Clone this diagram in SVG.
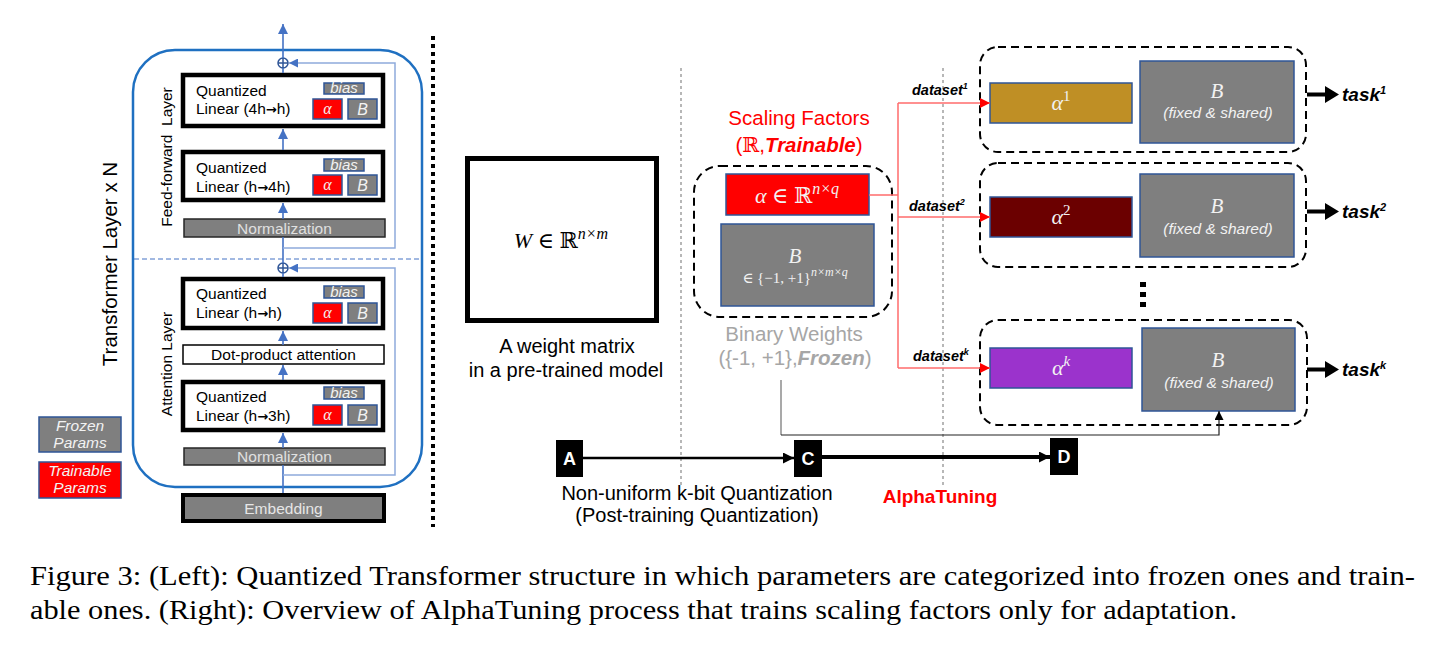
<svg xmlns="http://www.w3.org/2000/svg" width="1443" height="652" viewBox="0 0 1443 652">
<style>
text{font-family:"Liberation Sans",Arial,sans-serif;}
.serif{font-family:"Liberation Serif","DejaVu Serif",serif;}
.cap{font-family:"Liberation Serif","Times New Roman",serif;font-size:28px;fill:#000;}
.ar{font-family:"DejaVu Sans",sans-serif;font-weight:bold;font-size:13px;}
.q{fill:#fff;stroke:#000;stroke-width:4.5;}
.norm{fill:#7f7f7f;stroke:#262626;stroke-width:1.5;}
.gray{fill:#7f7f7f;stroke:#2f5597;stroke-width:1.5;}
.red{fill:#ff0000;stroke:#2f5597;stroke-width:1.5;}
.flow{stroke:#4472c4;stroke-width:1.6;fill:none;}
.res{stroke:#8eaadb;stroke-width:1.5;fill:none;}
.dash{fill:none;stroke:#000;stroke-width:2;stroke-dasharray:8 5;}
.gdot{stroke:#a0a0a0;stroke-width:1.5;stroke-dasharray:3 3;}
.rl{stroke:#ff6b6b;stroke-width:1.5;fill:none;}
.t15{font-size:15.5px;}
.wt{fill:#f2f2f2;}
.lbl{fill:#fff;font-weight:bold;font-size:18px;}
.ds{font-weight:bold;font-style:italic;font-size:14.5px;}
.task{font-weight:bold;font-style:italic;font-size:19px;}
</style>
<defs>
<marker id="ab" viewBox="0 0 10 10" refX="10" refY="5" markerWidth="10" markerHeight="10" markerUnits="userSpaceOnUse" orient="auto"><path d="M0,0L10,5L0,10z" fill="#4472c4"/></marker>
<marker id="ar" viewBox="0 0 10 10" refX="10" refY="5" markerWidth="9" markerHeight="9" markerUnits="userSpaceOnUse" orient="auto"><path d="M0,0L10,5L0,10z" fill="#4472c4"/></marker>
<marker id="ared" viewBox="0 0 10 10" refX="10" refY="5" markerWidth="10" markerHeight="11" markerUnits="userSpaceOnUse" orient="auto"><path d="M0,0L10,5L0,10z" fill="#ff0000"/></marker>
<marker id="ak" viewBox="0 0 10 10" refX="10" refY="5" markerWidth="11" markerHeight="11" markerUnits="userSpaceOnUse" orient="auto"><path d="M0,0L10,5L0,10z" fill="#000"/></marker>
<marker id="aks" viewBox="0 0 10 10" refX="10" refY="5" markerWidth="9" markerHeight="9" markerUnits="userSpaceOnUse" orient="auto"><path d="M0,0L10,5L0,10z" fill="#000"/></marker>
</defs>

<!-- Transformer container -->
<g id="transformer">
<rect x="133" y="50" width="289" height="437" rx="42" fill="none" stroke="#1f70c1" stroke-width="2.5"/>
<line x1="134" y1="259" x2="421" y2="259" stroke="#4472c4" stroke-width="1" stroke-dasharray="5 3"/>
<text transform="rotate(-90 117 264)" x="117" y="264" text-anchor="middle" font-size="20.5">Transformer Layer x N</text>
<text transform="rotate(-90 172 157)" x="172" y="157" text-anchor="middle" class="t15" xml:space="preserve">Feed-forward  Layer</text>
<text transform="rotate(-90 172 364)" x="172" y="364" text-anchor="middle" class="t15">Attention Layer</text>
</g>

<g id="plus1"><circle cx="283" cy="63" r="5" fill="#fff" stroke="#2f5597" stroke-width="1.5"/><path d="M278,63h10M283,58v10" stroke="#2f5597" stroke-width="1.5"/></g>
<g id="plus2"><circle cx="283" cy="268" r="5" fill="#fff" stroke="#2f5597" stroke-width="1.5"/><path d="M278,268h10M283,263v10" stroke="#2f5597" stroke-width="1.5"/></g>

<g id="ql1">
<rect class="q" x="183" y="75" width="200" height="51"/>
<text class="t15" x="196" y="96">Quantized</text>
<text class="t15" x="196" y="114">Linear (4h<tspan class="ar">→</tspan>h)</text>
<rect class="gray" x="324" y="83" width="40" height="11"/>
<text class="wt" x="344" y="93" text-anchor="middle" font-size="15" font-style="italic">bias</text>
<rect class="red" x="313" y="99" width="29" height="20"/>
<text class="serif wt" x="327.5" y="114" text-anchor="middle" font-size="16" font-style="italic">α</text>
<rect class="gray" x="348" y="99" width="29" height="20"/>
<text class="wt" x="362.5" y="115" text-anchor="middle" font-size="16" font-style="italic">B</text>
</g>
<g id="ql2">
<rect class="q" x="183" y="152" width="200" height="48"/>
<text class="t15" x="196" y="173">Quantized</text>
<text class="t15" x="196" y="192">Linear (h<tspan class="ar">→</tspan>4h)</text>
<rect class="gray" x="324" y="159" width="40" height="12"/>
<text class="wt" x="344" y="170" text-anchor="middle" font-size="15" font-style="italic">bias</text>
<rect class="red" x="313" y="175" width="29" height="20"/>
<text class="serif wt" x="327.5" y="190" text-anchor="middle" font-size="16" font-style="italic">α</text>
<rect class="gray" x="348" y="175" width="29" height="20"/>
<text class="wt" x="362.5" y="191" text-anchor="middle" font-size="16" font-style="italic">B</text>
</g>
<g id="norm1">
<rect class="norm" x="184" y="219" width="201" height="18"/>
<text class="t15" x="284.5" y="233.5" text-anchor="middle" fill="#e0e0e0">Normalization</text>
</g>
<g id="ql3">
<rect class="q" x="183" y="279" width="200" height="49"/>
<text class="t15" x="196" y="299">Quantized</text>
<text class="t15" x="196" y="318">Linear (h<tspan class="ar">→</tspan>h)</text>
<rect class="gray" x="324" y="286" width="40" height="12"/>
<text class="wt" x="344" y="297" text-anchor="middle" font-size="15" font-style="italic">bias</text>
<rect class="red" x="313" y="303" width="29" height="20"/>
<text class="serif wt" x="327.5" y="318" text-anchor="middle" font-size="16" font-style="italic">α</text>
<rect class="gray" x="348" y="303" width="29" height="20"/>
<text class="wt" x="362.5" y="319" text-anchor="middle" font-size="16" font-style="italic">B</text>
</g>
<g id="dotprod">
<rect x="183" y="345" width="201" height="19" fill="#fff" stroke="#000" stroke-width="1.5"/>
<text class="t15" x="283.5" y="359.5" text-anchor="middle">Dot-product attention</text>
</g>
<g id="ql4">
<rect class="q" x="183" y="382" width="200" height="48"/>
<text class="t15" x="196" y="402">Quantized</text>
<text class="t15" x="196" y="421">Linear (h<tspan class="ar">→</tspan>3h)</text>
<rect class="gray" x="324" y="387" width="40" height="12"/>
<text class="wt" x="344" y="398" text-anchor="middle" font-size="15" font-style="italic">bias</text>
<rect class="red" x="313" y="405" width="29" height="20"/>
<text class="serif wt" x="327.5" y="420" text-anchor="middle" font-size="16" font-style="italic">α</text>
<rect class="gray" x="348" y="405" width="29" height="20"/>
<text class="wt" x="362.5" y="421" text-anchor="middle" font-size="16" font-style="italic">B</text>
</g>
<g id="norm2">
<rect class="norm" x="184" y="448" width="201" height="17"/>
<text class="t15" x="284.5" y="462" text-anchor="middle" fill="#e0e0e0">Normalization</text>
</g>
<g id="embedding">
<rect x="183" y="495" width="201" height="26" fill="#7f7f7f" stroke="#000" stroke-width="4"/>
<text class="t15" x="283.5" y="513.5" text-anchor="middle" fill="#e6e6e6">Embedding</text>
</g>

<g id="legend-frozen">
<rect class="gray" x="39" y="417" width="82" height="35"/>
<text class="t15 wt" x="80" y="430.5" text-anchor="middle" font-style="italic">Frozen</text>
<text class="t15 wt" x="80" y="448" text-anchor="middle" font-style="italic">Params</text>
</g>
<g id="legend-trainable">
<rect class="red" x="39" y="462" width="82" height="36"/>
<text class="t15 wt" x="80" y="475.5" text-anchor="middle" font-style="italic">Trainable</text>
<text class="t15 wt" x="80" y="493" text-anchor="middle" font-style="italic">Params</text>
</g>

<!-- separators -->
<g id="separators">
<line x1="433" y1="36" x2="433" y2="527" stroke="#000" stroke-width="4" stroke-dasharray="4 4"/>
<line class="gdot" x1="681" y1="68" x2="681" y2="488"/>
<line class="gdot" x1="943" y1="68" x2="943" y2="488"/>
</g>

<g id="weight-matrix">
<rect x="467.5" y="158.5" width="189" height="162" fill="#fff" stroke="#000" stroke-width="5"/>
<text class="serif" x="561" y="248" text-anchor="middle" font-size="22"><tspan font-style="italic">W</tspan> ∈ ℝ<tspan font-style="italic" font-size="16" dy="-9">n×m</tspan></text>
<text x="567" y="353" text-anchor="middle" font-size="20">A weight matrix</text>
<text x="566" y="377" text-anchor="middle" font-size="20">in a pre-trained model</text>
</g>

<g id="quantized-weights">
<text x="799" y="125" text-anchor="middle" font-size="20.5" fill="#ff0000">Scaling Factors</text>
<text x="799" y="152" text-anchor="middle" font-size="20.5" fill="#ff0000">(<tspan class="serif">ℝ</tspan>,<tspan font-weight="bold" font-style="italic">Trainable</tspan>)</text>
<rect class="dash" x="694" y="166" width="198" height="151" rx="26"/>
<rect class="red" x="726" y="174" width="143" height="41"/>
<text class="serif wt" x="797" y="203" text-anchor="middle" font-size="22"><tspan font-style="italic">α</tspan> ∈ ℝ<tspan font-style="italic" font-size="16" dy="-9">n×q</tspan></text>
<rect class="gray" x="721" y="224" width="153" height="82"/>
<text class="serif wt" x="795" y="263" text-anchor="middle" font-size="21" font-style="italic">B</text>
<text class="serif wt" x="795" y="283" text-anchor="middle" font-size="15">∈ {−1, +1}<tspan font-style="italic" font-size="12" dy="-7">n×m×q</tspan></text>
<text x="794" y="341" text-anchor="middle" font-size="20.5" fill="#a6a6a6">Binary Weights</text>
<text x="795" y="365" text-anchor="middle" font-size="20.5" fill="#a6a6a6">({-1, +1},<tspan font-weight="bold" font-style="italic">Frozen</tspan>)</text>
</g>

<g id="task1">
<rect class="dash" x="980" y="47" width="326" height="105" rx="18"/>
<rect x="990" y="83" width="142" height="40" fill="#bf8f25" stroke="#2f5597" stroke-width="1.5"/>
<text class="serif wt" x="1061" y="110" text-anchor="middle" font-size="22"><tspan font-style="italic">α</tspan><tspan font-size="15" dy="-9">1</tspan></text>
<rect class="gray" x="1140" y="61" width="154" height="82"/>
<text class="serif wt" x="1217" y="98" text-anchor="middle" font-size="21" font-style="italic">B</text>
<text class="wt" x="1218" y="118" text-anchor="middle" font-size="15.5" font-style="italic">(fixed &amp; shared)</text>
</g>
<g id="task2">
<rect class="dash" x="980" y="163" width="326" height="104" rx="18"/>
<rect x="990" y="197" width="142" height="40" fill="#6b0000" stroke="#2f5597" stroke-width="1.5"/>
<text class="serif wt" x="1061" y="224" text-anchor="middle" font-size="22"><tspan font-style="italic">α</tspan><tspan font-size="15" dy="-9">2</tspan></text>
<rect class="gray" x="1140" y="174" width="154" height="83"/>
<text class="serif wt" x="1217" y="213" text-anchor="middle" font-size="21" font-style="italic">B</text>
<text class="wt" x="1218" y="234" text-anchor="middle" font-size="15.5" font-style="italic">(fixed &amp; shared)</text>
</g>
<g id="ellipsis">
<rect x="1140" y="282" width="6" height="5"/>
<rect x="1140" y="292" width="6" height="5"/>
<rect x="1140" y="302" width="6" height="5"/>
</g>
<g id="taskk">
<rect class="dash" x="980" y="320" width="327" height="105" rx="18"/>
<rect x="990" y="348" width="142" height="40" fill="#9b33cc" stroke="#2f5597" stroke-width="1.5"/>
<text class="serif wt" x="1061" y="375" text-anchor="middle" font-size="22"><tspan font-style="italic">α</tspan><tspan font-style="italic" font-size="15" dy="-9">k</tspan></text>
<rect class="gray" x="1142" y="328" width="153" height="83"/>
<text class="serif wt" x="1218" y="367" text-anchor="middle" font-size="21" font-style="italic">B</text>
<text class="wt" x="1219" y="388" text-anchor="middle" font-size="15.5" font-style="italic">(fixed &amp; shared)</text>
</g>

<g id="labels">
<text class="ds" x="912" y="95">dataset<tspan font-size="9" dy="-6">1</tspan></text>
<text class="ds" x="909" y="211">dataset<tspan font-size="9" dy="-6">2</tspan></text>
<text class="ds" x="913" y="361">dataset<tspan font-size="9" dy="-6">k</tspan></text>
<text class="task" x="1342" y="101">task<tspan font-size="11" dy="-7">1</tspan></text>
<text class="task" x="1342" y="218">task<tspan font-size="11" dy="-7">2</tspan></text>
<text class="task" x="1342" y="376">task<tspan font-size="11" dy="-7">k</tspan></text>
</g>

<g id="A"><rect x="556" y="440" width="27" height="37"/><text class="lbl" x="569.5" y="465" text-anchor="middle">A</text></g>
<g id="C"><rect x="794" y="440" width="28" height="37"/><text class="lbl" x="808" y="465" text-anchor="middle">C</text></g>
<g id="D"><rect x="1050" y="438" width="28" height="37"/><text class="lbl" x="1064" y="463" text-anchor="middle">D</text></g>

<g id="bottom-text">
<text x="697" y="500" text-anchor="middle" font-size="20">Non-uniform k-bit Quantization</text>
<text x="697" y="522" text-anchor="middle" font-size="20">(Post-training Quantization)</text>
<text x="940" y="503" text-anchor="middle" font-size="19" font-weight="bold" fill="#ff0000">AlphaTuning</text>
</g>

<g id="connectors">
<line class="flow" x1="283" y1="58" x2="283" y2="24" marker-end="url(#ab)"/>
<line class="flow" x1="283" y1="68" x2="283" y2="73"/>
<line class="flow" x1="283" y1="150" x2="283" y2="129" marker-end="url(#ab)"/>
<line class="flow" x1="283" y1="219" x2="283" y2="203" marker-end="url(#ab)"/>
<line class="flow" x1="283" y1="237" x2="283" y2="263"/>
<line class="flow" x1="283" y1="273" x2="283" y2="277"/>
<line class="flow" x1="283" y1="345" x2="283" y2="331" marker-end="url(#ab)"/>
<line class="flow" x1="283" y1="380" x2="283" y2="365" marker-end="url(#ab)"/>
<line class="flow" x1="283" y1="448" x2="283" y2="433" marker-end="url(#ab)"/>
<line class="flow" x1="283" y1="493" x2="283" y2="465"/>
<polyline class="res" points="283,248 395,248 395,63 289,63" marker-end="url(#ar)"/>
<polyline class="res" points="283,475 395,475 395,268 289,268" marker-end="url(#ar)"/>
<polyline class="rl" points="869,195 898,195"/>
<line class="rl" x1="898" y1="103" x2="898" y2="368"/>
<line class="rl" x1="898" y1="103" x2="990" y2="103" marker-end="url(#ared)"/>
<line class="rl" x1="898" y1="217" x2="990" y2="217" marker-end="url(#ared)"/>
<line class="rl" x1="898" y1="368" x2="990" y2="368" marker-end="url(#ared)"/>
<line x1="781" y1="380" x2="781" y2="435" stroke="#8c8c8c" stroke-width="1.5"/>
<polyline points="781,435 1219,435 1219,411" fill="none" stroke="#222" stroke-width="1.2" marker-end="url(#aks)"/>
<line x1="583" y1="458" x2="794" y2="458" stroke="#000" stroke-width="2.5" marker-end="url(#ak)"/>
<line x1="822" y1="457" x2="1050" y2="457" stroke="#000" stroke-width="4" marker-end="url(#ak)"/>
<path d="M1307,92.5h18v-6.5l14,8.5l-14,8.5v-6.5h-18z"/>
<path d="M1307,209.5h18v-6.5l14,8.5l-14,8.5v-6.5h-18z"/>
<path d="M1307,367.5h18v-6.5l14,8.5l-14,8.5v-6.5h-18z"/>
</g>

<g id="caption">
<text class="cap" x="30" y="585" textLength="1385" lengthAdjust="spacingAndGlyphs">Figure 3: (Left): Quantized Transformer structure in which parameters are categorized into frozen ones and train-</text>
<text class="cap" x="30" y="619" textLength="1207" lengthAdjust="spacingAndGlyphs">able ones. (Right): Overview of AlphaTuning process that trains scaling factors only for adaptation.</text>
</g>
</svg>
